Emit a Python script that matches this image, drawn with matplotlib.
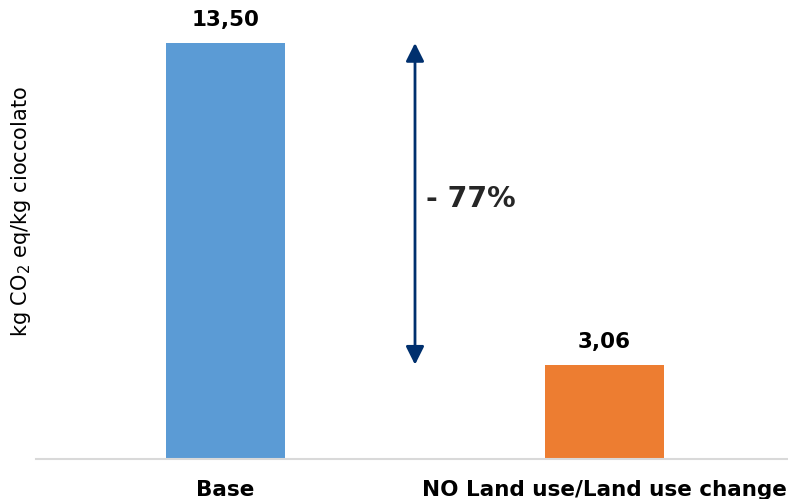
import matplotlib.pyplot as plt

categories = ["Base", "NO Land use/Land use change"]
values = [13.50, 3.06]
value_labels = ["13,50", "3,06"]
colors = ["#5B9BD5", "#ED7D31"]
reduction_label = "- 77%"

plt.rcParams["font.family"] = "DejaVu Sans"

fig = plt.figure(figsize=(7.88, 4.99), dpi=100)
# plot area runs past the right edge, as in the original
ax = fig.add_axes([36 / 788, 40 / 499, 758 / 788, 449 / 499])

x = range(len(categories))
ax.bar(x, values, width=0.314, color=colors, zorder=2)
ax.set_xlim(-0.5, 1.5)
ax.set_ylim(0, 449 / 416 * values[0])

for xi, v, lab in zip(x, values, value_labels):
    ax.annotate(lab, (xi, v), xytext=(0, 9.5), textcoords="offset points",
                ha="center", va="bottom", fontsize=15.5, fontweight="bold",
                color="black")

# double arrow between the two bars
ax.annotate("", xy=(0.5, values[0]), xytext=(0.5, values[1]),
            arrowprops=dict(arrowstyle="<|-|>,head_length=1.1,head_width=0.55",
                            color="#00306E", lw=2, shrinkA=0, shrinkB=0))
ax.text(0.528, (values[0] + values[1]) / 2 + 0.15, reduction_label,
        ha="left", va="center", fontsize=20.5, fontweight="bold", color="#262626")

ax.set_xticks(list(x))
ax.set_xticklabels(categories, fontsize=15.5, fontweight="bold")
ax.tick_params(axis="x", length=0, pad=15)
ax.set_yticks([])
for s in ["top", "right", "left"]:
    ax.spines[s].set_visible(False)
ax.spines["bottom"].set_color("#D9D9D9")
ax.spines["bottom"].set_linewidth(1.5)

fig.text(21 / 788, 1 - 212 / 499, "kg CO$_2$ eq/kg cioccolato", rotation=90,
         ha="center", va="center", fontsize=15)

fig.savefig("out.png", dpi=100)
